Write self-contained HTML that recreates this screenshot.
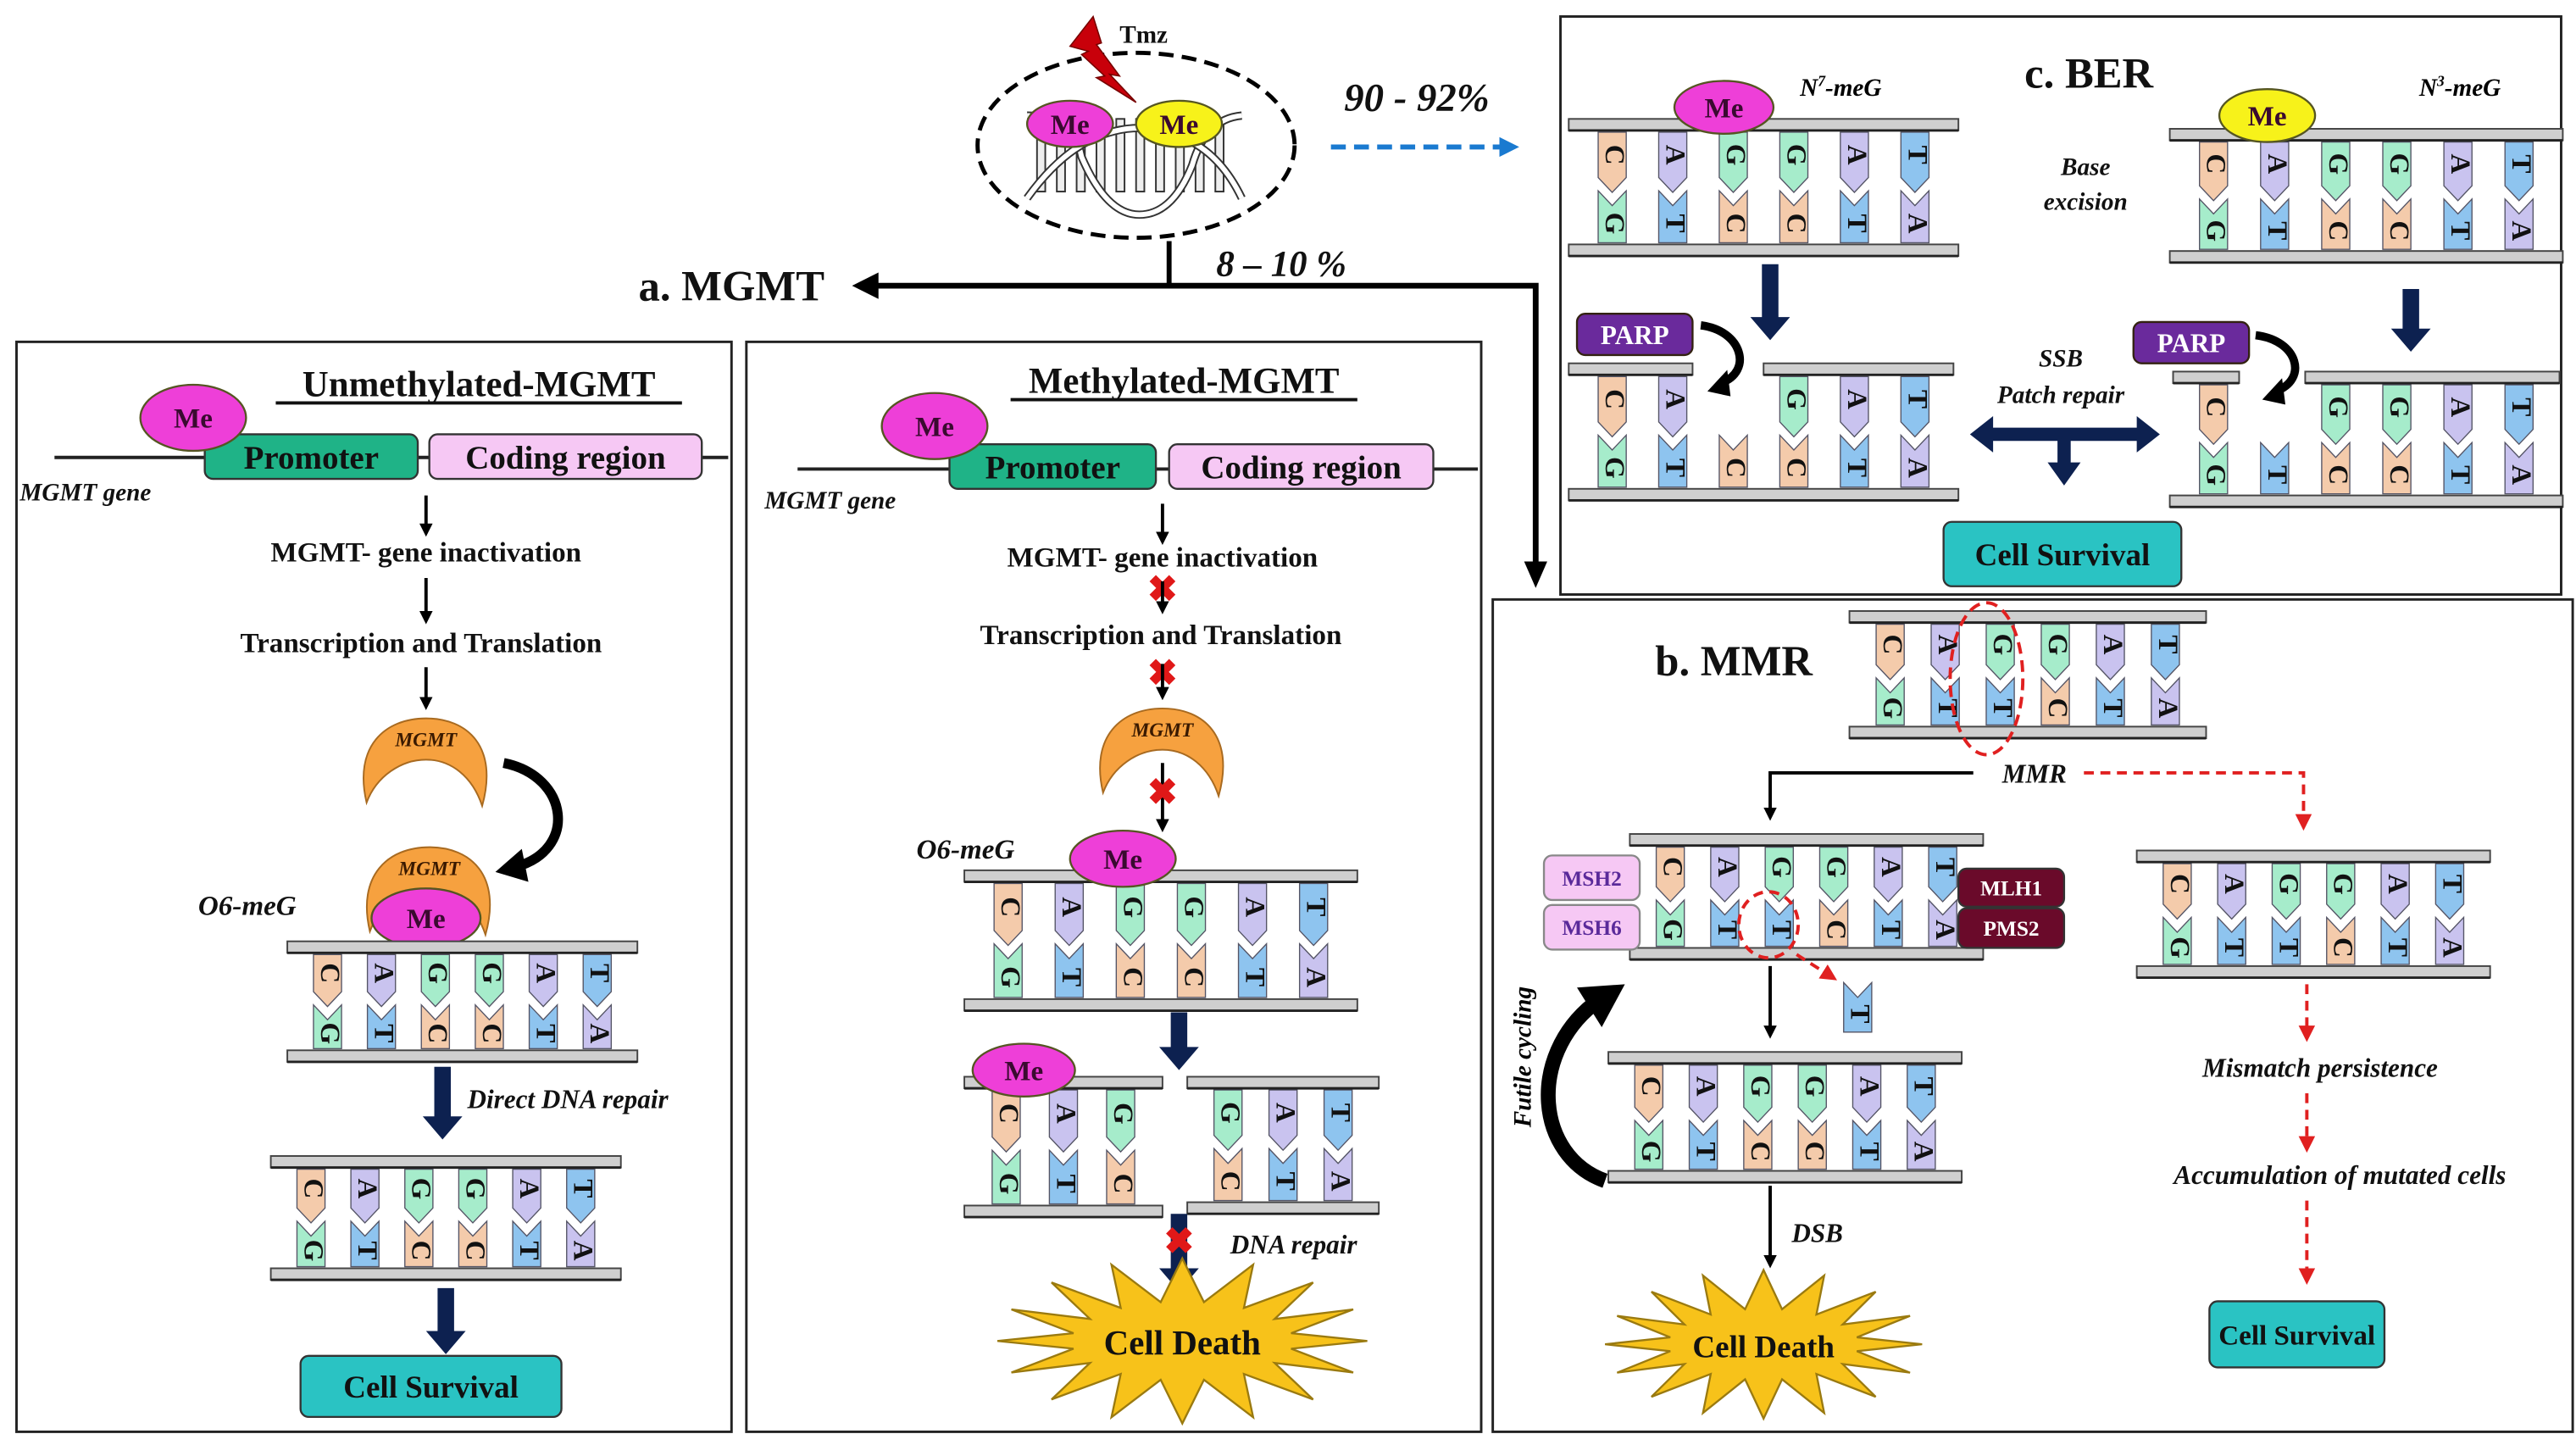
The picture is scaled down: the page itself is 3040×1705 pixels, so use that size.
<!DOCTYPE html>
<html><head><meta charset="utf-8">
<style>
html,body{margin:0;padding:0;background:#fff;}
svg{display:block;}
text{font-family:"Liberation Serif",serif;font-weight:bold;}
</style></head>
<body>
<svg id="s" xmlns="http://www.w3.org/2000/svg" width="3040" height="1705" viewBox="0 0 1560 875" preserveAspectRatio="none">
<defs>
<marker id="ah" markerWidth="8" markerHeight="8" refX="6" refY="4" orient="auto" markerUnits="userSpaceOnUse"><path d="M0,0 L8,4 L0,8 Z" fill="#000"/></marker>
<marker id="ahr" markerWidth="10" markerHeight="10" refX="7" refY="5" orient="auto" markerUnits="userSpaceOnUse"><path d="M0,0 L10,5 L0,10 Z" fill="#e02020"/></marker>
<marker id="ahb" markerWidth="12" markerHeight="12" refX="8" refY="6" orient="auto" markerUnits="userSpaceOnUse"><path d="M0,0 L12,6 L0,12 Z" fill="#1a7ad0"/></marker>
</defs>
<g id="g"></g>
</svg>
<script>
var G=document.getElementById('g'),out='';
function a(s){out+=s;}
var COL={C:'#f4cbab',A:'#c9c3ef',G:'#a6eccb',T:'#8ec4ef'};
var PAIR={C:'G',A:'T',G:'C',T:'A'};
function bar(x1,x2,y){a('<rect x="'+x1+'" y="'+y+'" width="'+(x2-x1)+'" height="7" fill="#cfcfcf" stroke="#444" stroke-width="1"/><line x1="'+x1+'" y1="'+(y+7)+'" x2="'+x2+'" y2="'+(y+7)+'" stroke="#222" stroke-width="1.5"/>');}
function base(cx,y1,y2,L,top){
 var w=8.5,p;
 if(top){p=[[cx-w,y1],[cx+w,y1],[cx+w,y2-6],[cx,y2+3],[cx-w,y2-6]];}
 else{p=[[cx-w,y1],[cx,y1+9],[cx+w,y1],[cx+w,y2],[cx-w,y2]];}
 a('<polygon points="'+p.map(function(q){return q.join(',')}).join(' ')+'" fill="'+COL[L]+'" stroke="#556" stroke-width="0.7"/>');
 var ty=top?(y1+y2)/2-3:(y1+y2)/2+4;
 a('<text x="'+cx+'" y="'+ty+'" font-size="17" text-anchor="middle" dominant-baseline="middle" transform="rotate(90 '+cx+' '+ty+')" fill="#111">'+L+'</text>');
}
function lad(x,y,w,h,seq,o){
 o=o||{};
 var n=seq.length;
 var y1=y+7,y2=y+h,ym=(y1+y2)/2;
 for(var i=0;i<n;i++){
  var cx=x+w*(i+0.5)/n;
  if(!(o.noTop&&o.noTop.indexOf(i)>=0)) base(cx,y1+1,ym,seq[i],true);
  if(!(o.noBot&&o.noBot.indexOf(i)>=0)) base(cx,ym+2,y2-1,o.bot?o.bot[i]:PAIR[seq[i]],false);
 }
 if(o.topBars){o.topBars.forEach(function(b){bar(b[0],b[1],y);});} else bar(x-8,x+w+8,y);
 bar(x-8,x+w+8,y2);
}
function txt(x,y,s,sz,o){o=o||{};a('<text x="'+x+'" y="'+y+'" font-size="'+sz+'" text-anchor="'+(o.anc||'middle')+'" '+(o.it?'font-style="italic" ':'')+'fill="'+(o.fill||'#111')+'" '+(o.extra||'')+'>'+s+'</text>');}
function arr(x1,y1,x2,y2,w){a('<line x1="'+x1+'" y1="'+y1+'" x2="'+x2+'" y2="'+y2+'" stroke="#000" stroke-width="'+(w||2)+'" marker-end="url(#ah)"/>');}
function rarr(x1,y1,x2,y2){a('<line x1="'+x1+'" y1="'+y1+'" x2="'+x2+'" y2="'+y2+'" stroke="#e02020" stroke-width="2" stroke-dasharray="6,4" marker-end="url(#ahr)"/>');}
function bigdown(x,y1,y2){a('<polygon points="'+(x-5)+','+y1+' '+(x+5)+','+y1+' '+(x+5)+','+(y2-14)+' '+(x+12)+','+(y2-14)+' '+x+','+y2+' '+(x-12)+','+(y2-14)+' '+(x-5)+','+(y2-14)+'" fill="#0d2150"/>');}
function me(cx,cy,rx,ry,fill){a('<ellipse cx="'+cx+'" cy="'+cy+'" rx="'+rx+'" ry="'+ry+'" fill="'+(fill||'#ee3fd8')+'" stroke="#552" stroke-width="1.2"/>');txt(cx,cy+6,'Me',17,{fill:'#3a0a30'});}
function xmark(cx,cy){a('<text x="'+cx+'" y="'+(cy+7)+'" font-size="22" text-anchor="middle" fill="#e01818" font-family="DejaVu Sans">✖</text>');}
function mgmt(cx,cy){a('<path d="M'+(cx-36)+','+(cy+24)+' C'+(cx-44)+','+(cy-10)+' '+(cx-25)+','+(cy-27)+' '+cx+','+(cy-27)+' C'+(cx+25)+','+(cy-27)+' '+(cx+44)+','+(cy-10)+' '+(cx+34)+','+(cy+26)+' C'+(cx+28)+','+(cy+8)+' '+(cx+15)+','+(cy-2)+' '+cx+','+(cy-2)+' C'+(cx-15)+','+(cy-2)+' '+(cx-30)+','+(cy+8)+' '+(cx-36)+','+(cy+24)+' Z" fill="#f6a13f" stroke="#a86a20" stroke-width="1"/>');txt(cx,cy-10,'MGMT',12,{it:1,fill:'#3a1a00'});}
function box(x,y,w,h,fill,label,sz,col,stroke){a('<rect x="'+x+'" y="'+y+'" width="'+w+'" height="'+h+'" rx="5" fill="'+fill+'" stroke="'+(stroke||'#333')+'" stroke-width="1.2"/>');txt(x+w/2,y+h/2+sz*0.36,label,sz,{fill:col||'#111'});}
function star(cx,cy,rx,ry,n){var p=[];for(var i=0;i<2*n;i++){var t=Math.PI*i/n,r=i%2?0.6:1;p.push((cx+rx*r*Math.cos(t)).toFixed(1)+','+(cy+ry*r*Math.sin(t)*(i%2?0.8:1)).toFixed(1));}a('<polygon points="'+p.join(' ')+'" fill="#f7c21a" stroke="#9a7a10" stroke-width="1.2"/>');}
var SEQ='CAGGAT';

// ===== Top Tmz =====
a('<ellipse cx="688" cy="88" rx="96" ry="56" fill="none" stroke="#000" stroke-width="2.5" stroke-dasharray="9,5"/>');
a('<g stroke="#333" stroke-width="1" fill="#fff">');
for(var i=0;i<10;i++){var xx=628+i*12;a('<rect x="'+xx+'" y="72" width="5" height="44" fill="#eee"/>');}
a('<path d="M622,70 Q650,70 655,95 Q670,130 690,130 Q710,130 722,100 Q730,72 752,70" fill="none" stroke-width="5" stroke="#333"/><path d="M622,70 Q650,70 655,95 Q670,130 690,130 Q710,130 722,100 Q730,72 752,70" fill="none" stroke-width="3" stroke="#fff"/>');
a('<path d="M622,120 Q640,95 660,85 Q690,70 720,85 Q740,95 752,120" fill="none" stroke-width="5" stroke="#333"/><path d="M622,120 Q640,95 660,85 Q690,70 720,85 Q740,95 752,120" fill="none" stroke-width="3" stroke="#fff"/>');
a('</g>');
me(648,75,26,14,'#ee3fd8');me(714,75,26,14,'#f7f21a');
a('<polygon points="648,28 662,10 667,26 664,27 678,46 672,45 688,62 664,47 669,46 655,33 659,31" fill="#c8000a" stroke="#700" stroke-width="0.8"/>');
txt(678,26,'Tmz',15,{anc:'start'});
txt(858,67,'90 - 92%',24,{it:1});
a('<line x1="806" y1="89" x2="916" y2="89" stroke="#1a7ad0" stroke-width="3" stroke-dasharray="9,5" marker-end="url(#ahb)"/>');
txt(776,167,'8 – 10 %',22,{it:1});
a('<line x1="708" y1="146" x2="708" y2="173" stroke="#000" stroke-width="3"/>');
a('<polyline points="930,342 930,173 530,173" fill="none" stroke="#000" stroke-width="3.5"/>');
a('<polygon points="516,173 532,165 532,181" fill="#000"/>');
a('<polygon points="930,356 923,340 937,340" fill="#000"/>');
txt(443,182,'a. MGMT',26);

// ===== Boxes =====
a('<rect x="10" y="207" width="433" height="660" fill="none" stroke="#222" stroke-width="1.5"/>');
a('<rect x="452" y="207" width="445" height="660" fill="none" stroke="#222" stroke-width="1.5"/>');
a('<rect x="945" y="10" width="606" height="350" fill="none" stroke="#222" stroke-width="1.5"/>');
a('<rect x="904" y="363" width="654" height="504" fill="none" stroke="#222" stroke-width="1.5"/>');

// ===== Left panel =====
txt(290,240,'Unmethylated-MGMT',22);
a('<line x1="167" y1="244" x2="413" y2="244" stroke="#111" stroke-width="2"/>');
a('<line x1="33" y1="277" x2="441" y2="277" stroke="#222" stroke-width="2"/>');
box(124,263,129,27,'#1fb387','Promoter',20,'#111');
box(260,263,165,27,'#f6c8f4','Coding region',20,'#111');
me(117,253,32,20);
txt(12,303,'MGMT gene',15,{anc:'start',it:1});
arr(258,300,258,323);txt(258,340,'MGMT- gene inactivation',17);
arr(258,350,258,376);txt(255,395,'Transcription and Translation',17);
arr(258,404,258,428);
mgmt(258,462);
a('<path d="M305,462 C345,470 350,515 312,525" fill="none" stroke="#000" stroke-width="6"/><polygon points="300,528 316,514 320,534" fill="#000"/>');
mgmt(260,540);me(258,556,33,18);
txt(120,554,'O6-meG',17,{anc:'start',it:1});
lad(182,570,196,66,SEQ);
bigdown(268,646,690);
txt(283,671,'Direct DNA repair',16,{anc:'start',it:1});
lad(172,700,196,68,SEQ);
bigdown(270,780,820);
box(182,821,158,37,'#2ac3c3','Cell Survival',19,'#111');

// ===== Middle panel =====
txt(717,238,'Methylated-MGMT',22);
a('<line x1="612" y1="242" x2="822" y2="242" stroke="#111" stroke-width="2"/>');
a('<line x1="483" y1="284" x2="895" y2="284" stroke="#222" stroke-width="2"/>');
box(575,269,125,27,'#1fb387','Promoter',20,'#111');
box(708,269,160,27,'#f6c8f4','Coding region',20,'#111');
me(566,258,32,20);
txt(463,308,'MGMT gene',15,{anc:'start',it:1});
arr(704,305,704,328);txt(704,343,'MGMT- gene inactivation',17);
xmark(704,357);arr(704,352,704,370);
txt(703,390,'Transcription and Translation',17);
xmark(704,408);arr(704,402,704,422);
mgmt(704,456);
arr(704,462,704,502);xmark(704,480);
txt(555,520,'O6-meG',17,{anc:'start',it:1});
lad(592,527,222,78,SEQ);
me(680,520,32,17);
bigdown(714,613,648);
lad(592,652,104,78,'CAG');
lad(727,652,100,76,'GAT',{bot:'CTA'});
me(620,648,31,16);
bigdown(714,735,782);xmark(714,752);
txt(745,759,'DNA repair',16,{anc:'start',it:1});
star(716,812,112,50,16);
txt(716,820,'Cell Death',21);

// ===== BER =====
lad(958,72,220,76,SEQ);
me(1044,65,30,16);
a('<text x="1090" y="58" font-size="15" font-style="italic" text-anchor="start">N<tspan font-size="9" dy="-6">7</tspan><tspan dy="6">-meG</tspan></text>');
txt(1265,53,'c. BER',26);
lad(1322,78,222,74,SEQ);
me(1373,70,29,16,'#f7f21a');
a('<text x="1465" y="58" font-size="15" font-style="italic" text-anchor="start">N<tspan font-size="9" dy="-6">3</tspan><tspan dy="6">-meG</tspan></text>');
txt(1263,106,'Base',15,{it:1});txt(1263,127,'excision',15,{it:1});
bigdown(1072,160,206);bigdown(1460,175,213);
lad(958,220,220,76,SEQ,{noTop:[2],topBars:[[950,1025],[1068,1183]]});
lad(1322,225,222,75,SEQ,{noTop:[1],topBars:[[1316,1356],[1396,1550]]});
box(955,190,70,25,'#6a2a9c','PARP',16,'#fff','#321');
box(1292,195,70,25,'#6a2a9c','PARP',16,'#fff','#321');
a('<path d="M1030,197 C1055,200 1062,225 1042,232" fill="none" stroke="#000" stroke-width="5"/><polygon points="1034,237 1046,224 1048,240" fill="#000"/>');
a('<path d="M1366,203 C1392,206 1398,230 1378,237" fill="none" stroke="#000" stroke-width="5"/><polygon points="1370,242 1382,229 1384,245" fill="#000"/>');
txt(1248,222,'SSB',15,{it:1});txt(1248,244,'Patch repair',15,{it:1});
a('<polygon points="1193,263 1207,252 1207,259 1294,259 1294,252 1308,263 1294,274 1294,267 1254,267 1254,280 1260,280 1250,294 1240,280 1246,280 1246,267 1207,267 1207,274" fill="#0d2150"/>');
box(1177,316,144,39,'#2ac3c3','Cell Survival',19,'#111');

// ===== MMR =====
txt(1050,409,'b. MMR',26);
lad(1128,370,200,70,SEQ,{bot:'GTTCTA'});
a('<ellipse cx="1203" cy="411" rx="22" ry="46" fill="none" stroke="#e02020" stroke-width="2" stroke-dasharray="7,4"/>');
txt(1232,474,'MMR',16,{it:1});
a('<polyline points="1195,468 1072,468 1072,495" fill="none" stroke="#000" stroke-width="2" marker-end="url(#ah)"/>');
a('<polyline points="1262,468 1395,468 1395,500" fill="none" stroke="#e02020" stroke-width="2" stroke-dasharray="6,4" marker-end="url(#ahr)"/>');
lad(995,505,198,69,SEQ,{bot:'GTTCTA'});
box(935,518,58,27,'#f6c8f4','MSH2',13,'#5a2a9a','#888');
box(935,548,58,27,'#f6c8f4','MSH6',13,'#5a2a9a','#888');
box(1186,526,64,23,'#6a0a2a','MLH1',13,'#fff');
box(1186,550,64,24,'#6a0a2a','PMS2',13,'#fff');
a('<ellipse cx="1071" cy="560" rx="18" ry="20" fill="none" stroke="#e02020" stroke-width="2" stroke-dasharray="6,4"/>');
rarr(1088,578,1110,592);
base(1125,595,625,'T',false);
arr(1072,585,1072,627);
lad(982,637,198,72,SEQ);
a('<path d="M972,715 C930,700 925,640 965,608" fill="none" stroke="#000" stroke-width="9"/><polygon points="955,598 984,596 970,622" fill="#000"/>');
a('<text x="927" y="640" font-size="15" font-style="italic" text-anchor="middle" transform="rotate(-90 927 640)">Futile cycling</text>');
arr(1072,718,1072,766);
txt(1085,752,'DSB',16,{anc:'start',it:1});
star(1068,814,96,45,16);
txt(1068,822,'Cell Death',19);
lad(1302,515,198,70,SEQ,{bot:'GTTCTA'});
rarr(1397,596,1397,628);
txt(1405,652,'Mismatch persistence',16,{it:1});
rarr(1397,662,1397,695);
txt(1417,717,'Accumulation of mutated cells',16,{it:1});
rarr(1397,727,1397,775);
box(1338,788,106,40,'#2ac3c3','Cell Survival',17,'#111');

G.innerHTML=out;
</script>
</body></html>
